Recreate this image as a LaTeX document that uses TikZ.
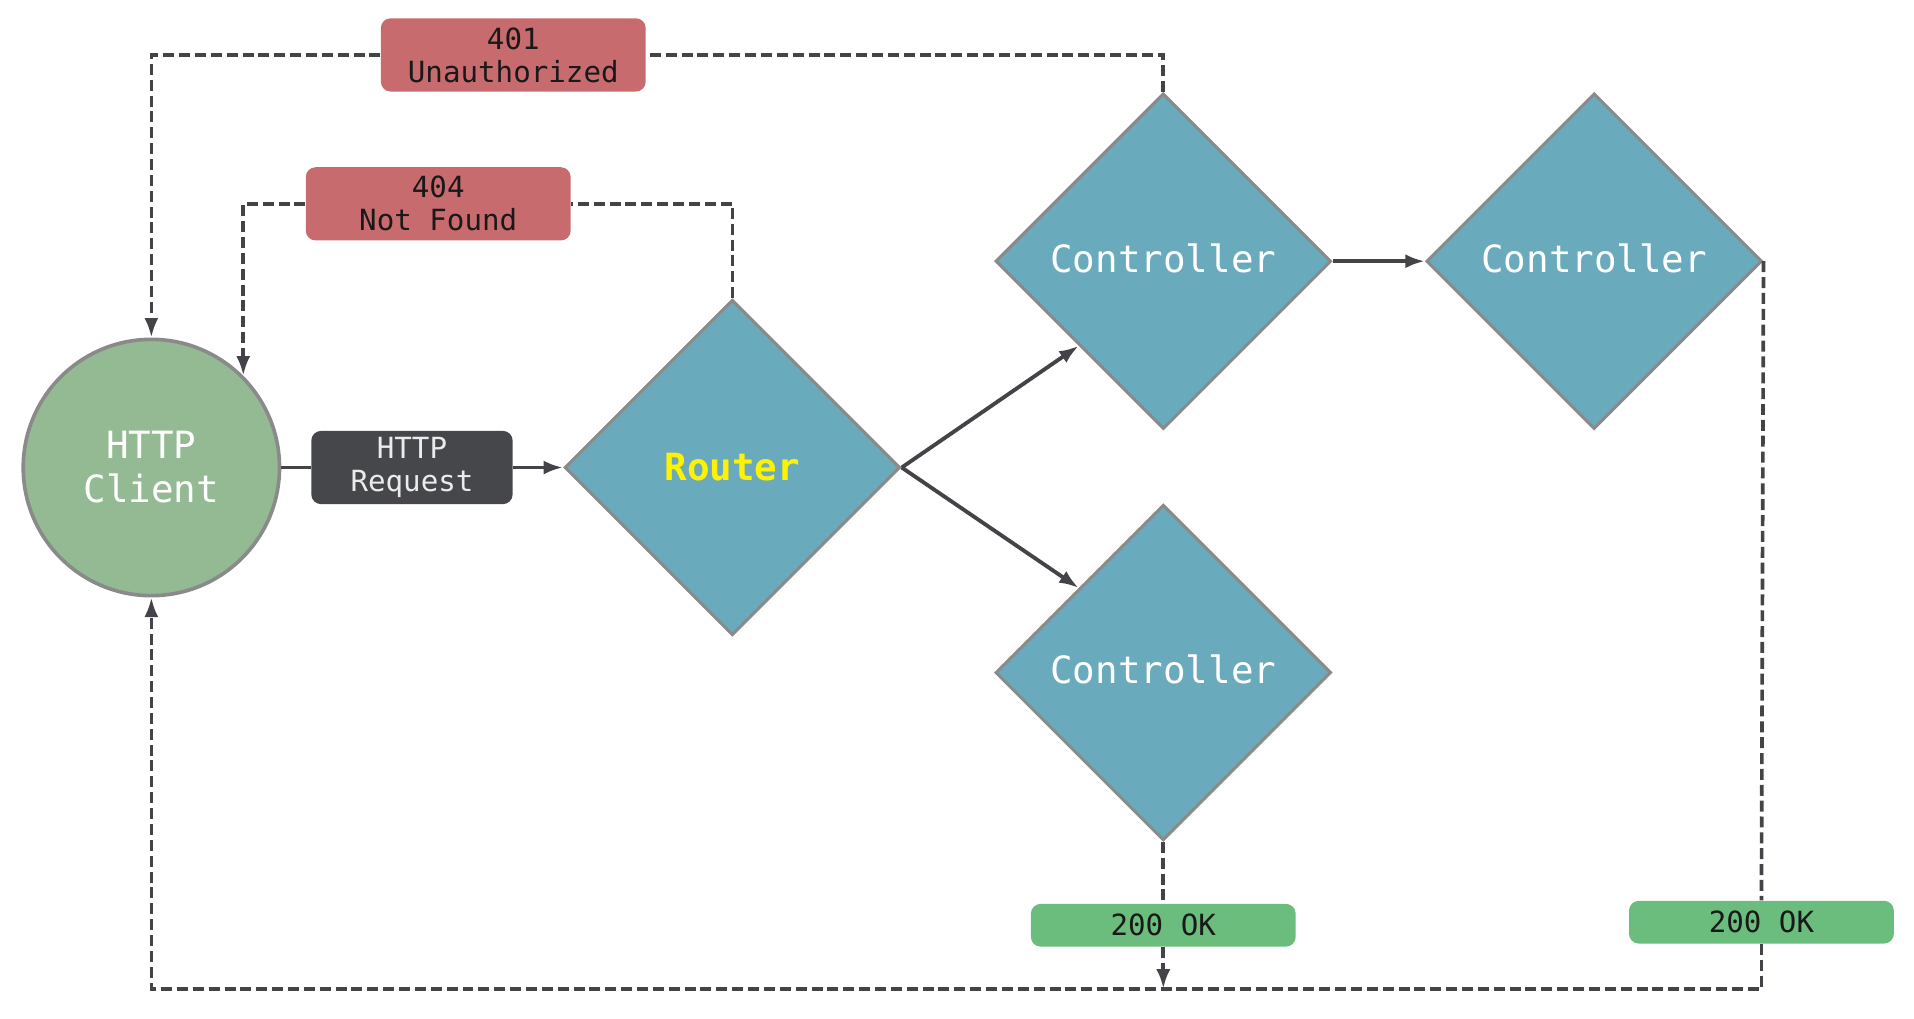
\documentclass[tikz,border=0pt]{standalone}
\usepackage{fontspec}
\setmainfont{DejaVu Sans Mono}
\usetikzlibrary{arrows.meta,shapes.geometric}
\definecolor{clientgreen}{RGB}{147,186,147}
\definecolor{edgegray}{RGB}{138,138,138}
\definecolor{diamblue}{RGB}{105,171,188}
\definecolor{reqgray}{RGB}{70,71,75}
\definecolor{errred}{RGB}{199,107,110}
\definecolor{okgreen}{RGB}{107,189,125}
\definecolor{linegray}{RGB}{68,68,72}

\begin{document}
\begin{tikzpicture}[>={Latex[length=0.32cm,width=0.23cm]}, x=0.02cm, y=-0.02cm,
  client/.style={circle, draw=edgegray, line width=1.7pt, fill=clientgreen, minimum size=4.2cm, inner sep=0pt, text=white, align=center, font=\fontsize{17.5}{20.5}\selectfont},
  decision/.style={diamond, draw=edgegray, line width=1.4pt, fill=diamblue, minimum width=5.5cm, minimum height=5.5cm, inner sep=0pt, text=white, font=\fontsize{17.5}{21}\selectfont},
  msg/.style={rounded corners=0.16cm, minimum width=4.34cm, minimum height=1.2cm, inner sep=0pt, align=center, text=black!90, font=\fontsize{13.6}{15.4}\selectfont},
  flow/.style={->, line width=1.8pt, linegray},
  back/.style={line width=1.7pt, linegray, dash pattern=on 0.18cm off 0.08cm}]

\useasboundingbox (0,0) rectangle (1568,834);

\node[client] (client) at (124,383) {HTTP\\Client};
\node[decision, text=yellow, font=\fontsize{17.5}{21}\selectfont\bfseries] (router) at (600,383) {Router};
\node[decision] (ctrlA) at (953,214) {\raisebox{3pt}{Controller}};
\node[decision] (ctrlB) at (1306,214) {\raisebox{3pt}{Controller}};
\node[decision] (ctrlC) at (953,551) {\raisebox{3pt}{Controller}};
\node[msg, fill=reqgray, text=white!92!black, minimum width=3.3cm] (req) at (337.5,383) {HTTP\\Request};
\node[msg, fill=errred] (e401) at (420.5,45) {401\\Unauthorized};
\node[msg, fill=errred] (e404) at (359,167) {404\\Not Found};
\node[msg, fill=okgreen, minimum height=0.7cm] (ok1) at (953,758) {200 OK};
\node[msg, fill=okgreen, minimum height=0.7cm] (ok2) at (1443,755.5) {200 OK};
\coordinate (bot) at (953,810);

\draw[line width=1.8pt, linegray] (client.east) -- (req.west);
\draw[flow] (req.east) -- (router.west);
\draw[flow] (router.east) -- (ctrlA.south west);
\draw[flow] (router.east) -- (ctrlC.north west);
\draw[flow] (ctrlA.east) -- (ctrlB.west);

\draw[back] (ctrlA.north) |- (e401.east);
\draw[back,->] (e401.west) -| (client.north);
\draw[back] (router.north) |- (e404.east);
\draw[back,->] (e404.west) -| (client.north east);
\draw[back] (ctrlC.south) -- (ok1.north);
\draw[back,->] (ok1.south) -- (bot);
\draw[back] (ctrlB.east) -- (ok2.north);
\draw[back,->] (ok2.south) |- (bot) -| (client.south);

\end{tikzpicture}
\end{document}
